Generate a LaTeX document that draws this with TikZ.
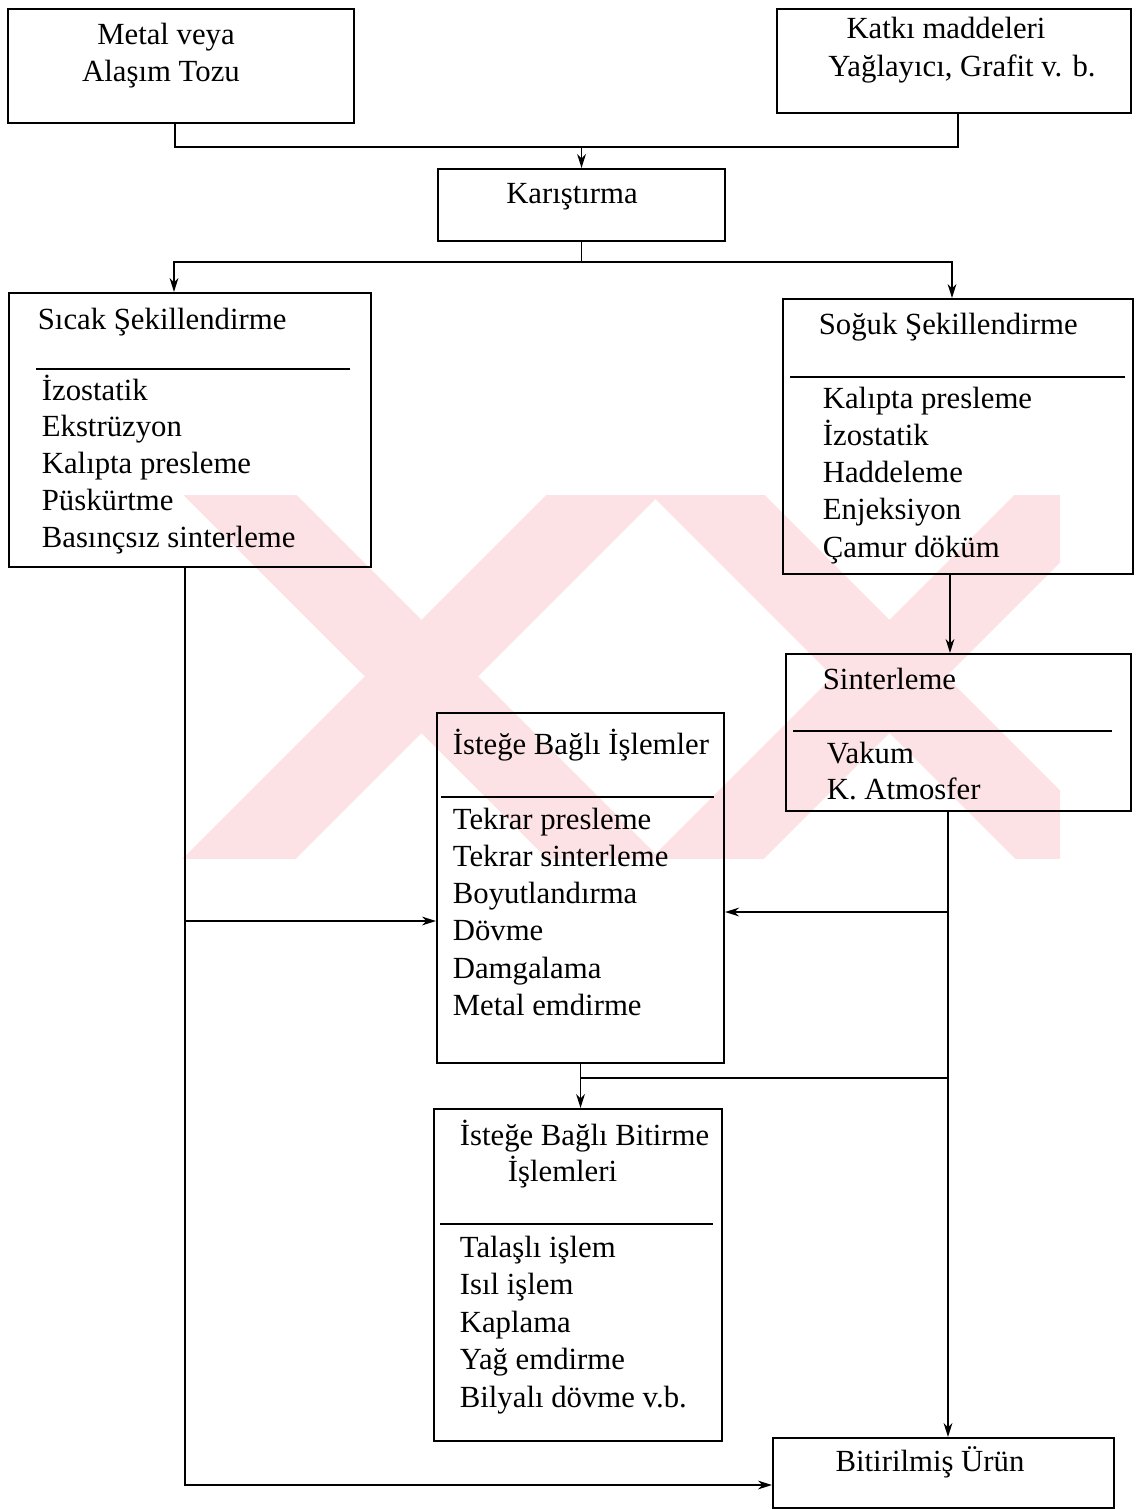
\documentclass[tikz,border=0pt]{standalone}
\usepackage{fontspec}
\setmainfont{Liberation Serif}
\usetikzlibrary{arrows.meta,positioning,calc}
\definecolor{wmpink}{RGB}{253,226,229}
\tikzset{
	box/.style={
		rectangle,
		draw=black,
		line width=1.2pt,
		anchor=north west,
		inner sep=0pt,
	},
	txt/.style={
		anchor=base west,
		inner sep=0pt,
		font=\fontsize{17.5}{21}\selectfont,
	},
	ctxt/.style={
		txt,
		anchor=base,
	},
	rule/.style={
		line width=1pt,
	},
}

\begin{document}
\begin{tikzpicture}[x=0.02cm, y=-0.02cm, >={Stealth[length=8pt,width=5pt]}, line width=1pt]
	\useasboundingbox (0,0) rectangle (1136,1509);
	% watermark
	\begin{scope}
		\clip (150,495) rectangle (1060,858);
		\draw[wmpink, line width=1.6cm] (190,445) -- (653,908) (653,445) -- (190,908);
		\draw[wmpink, line width=1.6cm] (658,445) -- (1121,908) (1121,445) -- (658,908);
	\end{scope}
	
	% boxes
	\node[box, minimum width=6.92cm, minimum height=2.28cm] (metal) at (7,8) {};
	\node[box, minimum width=7.08cm, minimum height=2.08cm] (katki) at (776,8) {};
	\node[box, minimum width=5.74cm, minimum height=1.44cm] (karis) at (437,168) {};
	\node[box, minimum width=7.24cm, minimum height=5.48cm] (sicak) at (8,292) {};
	\node[box, minimum width=7.00cm, minimum height=5.50cm] (soguk) at (782,298) {};
	\node[box, minimum width=6.90cm, minimum height=3.14cm] (sinter) at (785,653) {};
	\node[box, minimum width=5.74cm, minimum height=7.00cm] (istege) at (436,712) {};
	\node[box, minimum width=5.76cm, minimum height=6.64cm] (bitirme) at (433,1108) {};
	\node[box, minimum width=6.82cm, minimum height=1.40cm] (urun) at (772,1437) {};
	
	% texts
	\node[ctxt] (metal-1) at (166,44) {Metal veya};
	\node[ctxt] (metal-2) at (161,81) {Alaşım Tozu};
	\node[ctxt] (katki-1) at (946,38) {Katkı maddeleri};
	\node[ctxt] (katki-2) at (962,76) {Yağlayıcı, Grafit v. b.};
	\node[ctxt] (karis-t) at (572,203) {Karıştırma};
	
	\node[txt] (sicak-t) at (37,329) {Sıcak Şekillendirme};
	\draw[rule] (36,369) -- (350,369);
	\foreach \t [count=\i] in {İzostatik,Ekstrüzyon,Kalıpta presleme,Püskürtme,Basınçsız sinterleme}
		\node[txt] (sicak-\i) at (41,{363.2+36.8*\i}) {\t};
	
	\node[txt] (soguk-t) at (818,334) {Soğuk Şekillendirme};
	\draw[rule] (790,377) -- (1125,377);
	\foreach \t [count=\i] in {Kalıpta presleme,İzostatik,Haddeleme,Enjeksiyon,Çamur döküm}
		\node[txt] (soguk-\i) at (822,{371+37.2*\i}) {\t};
	
	\node[txt] (sinter-t) at (822,689) {Sinterleme};
	\draw[rule] (793,731) -- (1112,731);
	\node[txt] (sinter-1) at (826,763) {Vakum};
	\node[txt] (sinter-2) at (826,799) {K. Atmosfer};
	
	\node[txt] (istege-t) at (452,754) {İsteğe Bağlı İşlemler};
	\draw[rule] (441,797) -- (714,797);
	\foreach \t [count=\i] in {Tekrar presleme,Tekrar sinterleme,Boyutlandırma,Dövme,Damgalama,Metal emdirme}
		\node[txt] (istege-\i) at (452,{792+37.2*\i}) {\t};
	
	\node[txt] (bitirme-t) at (459,1145) {İsteğe Bağlı Bitirme};
	\node[txt] (bitirme-t2) at (507,1181) {İşlemleri};
	\draw[rule] (440,1224) -- (713,1224);
	\foreach \t [count=\i] in {Talaşlı işlem,Isıl işlem,Kaplama,Yağ emdirme,Bilyalı dövme v.b.}
		\node[txt] (bitirme-\i) at (459,{1219.5+37.5*\i}) {\t};
	
	\node[ctxt] (urun-t) at (930,1471) {Bitirilmiş Ürün};
	
	% connectors
	\coordinate (mix-in) at (karis.north |- 0,147);
	\draw (metal.south -| 175,0) |- (mix-in) -| (katki.south -| 958,0);
	\draw[->] (mix-in) -- (karis.north);
	
	\coordinate (split) at (karis.south |- 0,262);
	\draw (karis.south) -- (split);
	\draw[->] (split) -| (sicak.north -| 174,0);
	\draw[->] (split) -| (soguk.north -| 952,0);
	
	\coordinate (hot-branch) at (185,921);
	\draw[->] (sicak.south -| 185,0) |- (urun.west |- 0,1485);
	\draw[->] (hot-branch) -- (istege.west |- hot-branch);
	
	\draw[->] (soguk.south -| 950,0) -- (sinter.north -| 950,0);
	\coordinate (sint-b1) at (948,912);
	\coordinate (sint-b2) at (948,1078);
	\draw[->] (sinter.south -| 948,0) -- (urun.north -| 948,0);
	\draw[->] (sint-b1) -- (istege.east |- sint-b1);
	\draw (sint-b2) -- (sint-b2 -| istege.south);
	
	\draw[->] (istege.south) -- (bitirme.north -| istege.south);
\end{tikzpicture}
\end{document}
